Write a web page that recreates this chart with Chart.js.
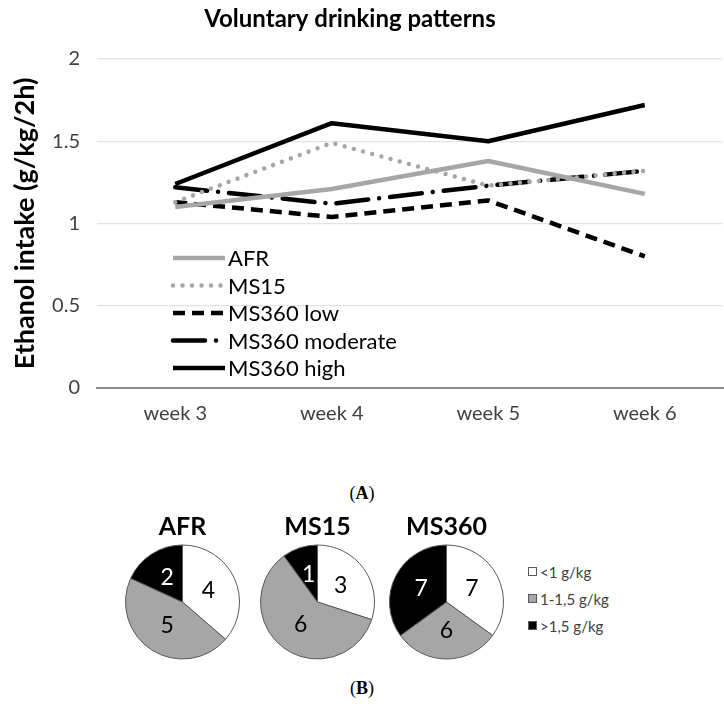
<!DOCTYPE html>
<html>
<head>
<meta charset="utf-8">
<script src="https://cdn.jsdelivr.net/npm/chart.js@4.4.1/dist/chart.umd.min.js"></script>
<style>
  html, body { margin: 0; padding: 0; background: #ffffff; }
  #wrap { position: relative; width: 724px; height: 708px; overflow: hidden; }
  .abs { position: absolute; }
  .panel { font-family: 'Liberation Serif', serif; font-size: 18px; color: #000; text-align: center; width: 724px; left: 0; }
  #pieLegend { left: 528px; top: 558px; font-family: Lato, 'Open Sans', sans-serif; font-size: 15px; color: #404040; }
  #pieLegend .row { height: 27px; display: flex; align-items: center; }
  #pieLegend .sw { width: 9px; height: 9px; border: 1px solid #595959; margin-right: 3px; box-sizing: border-box; }
</style>
</head>
<body>
<div id="wrap">
  <div class="abs" style="left:0;top:0;width:724px;height:440px;"><canvas id="lineChart"></canvas></div>
  <div class="abs panel" style="top:483px;">(<b>A</b>)</div>
  <div class="abs" style="left:125px;top:508px;width:115px;height:152px;"><canvas id="pie0"></canvas></div>
  <div class="abs" style="left:260px;top:508px;width:115px;height:152px;"><canvas id="pie1"></canvas></div>
  <div class="abs" style="left:389px;top:508px;width:115px;height:152px;"><canvas id="pie2"></canvas></div>
  <div class="abs" id="pieLegend"></div>
  <div class="abs panel" style="top:678px;">(<b>B</b>)</div>
</div>
<script>
// ---------- data ----------
const weeks = ['week 3', 'week 4', 'week 5', 'week 6'];
const seriesNames = ['AFR', 'MS15', 'MS360 low', 'MS360 moderate', 'MS360 high'];
const afr        = [1.10, 1.21, 1.38, 1.18];
const ms15       = [1.13, 1.49, 1.23, 1.32];
const ms360Low   = [1.13, 1.04, 1.14, 0.80];
const ms360Mod   = [1.22, 1.12, 1.23, 1.32];
const ms360High  = [1.24, 1.61, 1.50, 1.72];
const yTicks     = [0, 0.5, 1, 1.5, 2];
const yTickLabels = ['0', '0.5', '1', '1.5', '2'];
const chartTitle = 'Voluntary drinking patterns';
const yTitle     = 'Ethanol intake (g/kg/2h)';

const pieGroups  = ['AFR', 'MS15', 'MS360'];
const pieCategories = ['<1 g/kg', '1-1,5 g/kg', '>1,5 g/kg'];
const pieAFR     = [4, 5, 2];
const pieMS15    = [3, 6, 1];
const pieMS360   = [7, 6, 7];

// ---------- styles ----------
const FONT = "Lato, 'Open Sans', sans-serif";
const lineStyles = [
  { color: '#a6a6a6', dash: [], cap: 'butt', width: 4.5 },
  { color: '#a6a6a6', dash: [0.01, 9.5], cap: 'round', width: 4.5 },
  { color: '#000000', dash: [12, 7], cap: 'butt', width: 4.5 },
  { color: '#000000', dash: [32, 11, 0.01, 11], cap: 'round', width: 4.5 },
  { color: '#000000', dash: [], cap: 'butt', width: 4.5 }
];
const seriesValues = [afr, ms15, ms360Low, ms360Mod, ms360High];

const datasets = seriesNames.map((name, i) => ({
  label: name,
  data: seriesValues[i],
  borderColor: lineStyles[i].color,
  backgroundColor: lineStyles[i].color,
  borderWidth: lineStyles[i].width,
  borderDash: lineStyles[i].dash,
  borderCapStyle: lineStyles[i].cap,
  borderJoinStyle: 'round',
  pointRadius: 0,
  pointHoverRadius: 0,
  tension: 0,
  fill: false
}));

// title drawn slightly left of canvas centre (as in the source figure)
const offsetTitle = {
  id: 'offsetTitle',
  afterDraw(chart, args, opts) {
    const ctx = chart.ctx;
    ctx.save();
    ctx.font = opts.font;
    ctx.fillStyle = '#000';
    ctx.textAlign = 'center';
    ctx.textBaseline = 'middle';
    ctx.fillText(opts.text, chart.width / 2 + opts.dx, opts.y);
    ctx.restore();
  }
};

// custom in-plot legend
const inPlotLegend = {
  id: 'inPlotLegend',
  afterDatasetsDraw(chart, args, opts) {
    const ctx = chart.ctx;
    const x0 = chart.chartArea.left + opts.offsetX;
    ctx.save();
    chart.data.datasets.forEach((ds, i) => {
      const y = chart.chartArea.top + opts.offsetY + i * opts.rowHeight;
      ctx.beginPath();
      ctx.strokeStyle = ds.borderColor;
      ctx.lineWidth = ds.borderWidth;
      ctx.lineCap = ds.borderCapStyle;
      ctx.setLineDash(ds.borderDash);
      ctx.moveTo(x0, y);
      ctx.lineTo(x0 + opts.lineLength, y);
      ctx.stroke();
      ctx.setLineDash([]);
      ctx.fillStyle = '#000';
      ctx.font = opts.font;
      ctx.textBaseline = 'middle';
      ctx.textAlign = 'left';
      ctx.fillText(ds.label, x0 + opts.lineLength + opts.gap, y + 1);
    });
    ctx.restore();
  }
};

new Chart(document.getElementById('lineChart'), {
  type: 'line',
  data: { labels: weeks, datasets },
  plugins: [inPlotLegend, offsetTitle],
  options: {
    responsive: true,
    maintainAspectRatio: false,
    animation: false,
    events: [],
    layout: { padding: { left: 0, right: 1, top: 59, bottom: 0 } },
    plugins: {
      legend: { display: false },
      tooltip: { enabled: false },
      title: { display: false },
      offsetTitle: { text: chartTitle, font: "bold 24px " + FONT, dx: -12, y: 19 },
      inPlotLegend: {
        offsetX: 76, offsetY: 199, rowHeight: 27.5, lineLength: 52, gap: 3,
        font: "22px " + FONT
      }
    },
    scales: {
      x: {
        offset: true,
        grid: { display: false, drawTicks: false },
        border: { display: true, color: '#8c8c8c', width: 2 },
        ticks: { color: '#404040', font: { family: FONT, size: 20 }, padding: 14 }
      },
      y: {
        min: 0, max: 2,
        afterFit(scale) { scale.width = 97; },
        afterBuildTicks(scale) { scale.ticks = yTicks.map(v => ({ value: v })); },
        grid: { color: ctx => ctx.tick && ctx.tick.value === 0 ? 'rgba(0,0,0,0)' : '#e3e3e3', lineWidth: 1.2, drawTicks: false },
        border: { display: false },
        ticks: {
          color: '#404040', font: { family: FONT, size: 20 }, padding: 17,
          callback: (v) => yTickLabels[yTicks.indexOf(v)]
        },
        title: {
          display: true,
          text: yTitle,
          color: '#000',
          font: { family: FONT, size: 27, weight: 'bold' },
          padding: { top: 9, bottom: 0 }
        }
      }
    }
  }
});

// ---------- pies ----------
const pieColors = ['#ffffff', '#a6a6a6', '#000000'];
const pieLabelColors = ['#000000', '#000000', '#ffffff'];
const pieValues = [pieAFR, pieMS15, pieMS360];

const pieLabels = {
  id: 'pieLabels',
  afterDatasetsDraw(chart) {
    const ctx = chart.ctx;
    const meta = chart.getDatasetMeta(0);
    ctx.save();
    ctx.font = "23px " + FONT;
    ctx.textAlign = 'center';
    ctx.textBaseline = 'middle';
    meta.data.forEach((arc, i) => {
      const p = arc.tooltipPosition();
      ctx.fillStyle = pieLabelColors[i];
      ctx.fillText(String(chart.data.datasets[0].data[i]), p.x, p.y);
    });
    ctx.restore();
  }
};

pieGroups.forEach((g, k) => {
  new Chart(document.getElementById('pie' + k), {
    type: 'pie',
    data: {
      labels: pieCategories,
      datasets: [{
        data: pieValues[k],
        backgroundColor: pieColors,
        borderColor: '#595959',
        borderWidth: 1
      }]
    },
    plugins: [pieLabels],
    options: {
      responsive: true,
      maintainAspectRatio: false,
      animation: false,
      events: [],
      layout: { padding: 0 },
      plugins: {
        legend: { display: false },
        tooltip: { enabled: false },
        title: {
          display: true,
          text: g,
          color: '#000',
          font: { family: FONT, size: 25, weight: 'bold' },
          padding: { top: 4, bottom: 2 }
        }
      }
    }
  });
});

// pie legend (HTML)
const legendEl = document.getElementById('pieLegend');
pieCategories.forEach((c, i) => {
  const row = document.createElement('div');
  row.className = 'row';
  const sw = document.createElement('span');
  sw.className = 'sw';
  sw.style.background = pieColors[i];
  const t = document.createElement('span');
  t.textContent = c;
  row.appendChild(sw);
  row.appendChild(t);
  legendEl.appendChild(row);
});
</script>
</body>
</html>
